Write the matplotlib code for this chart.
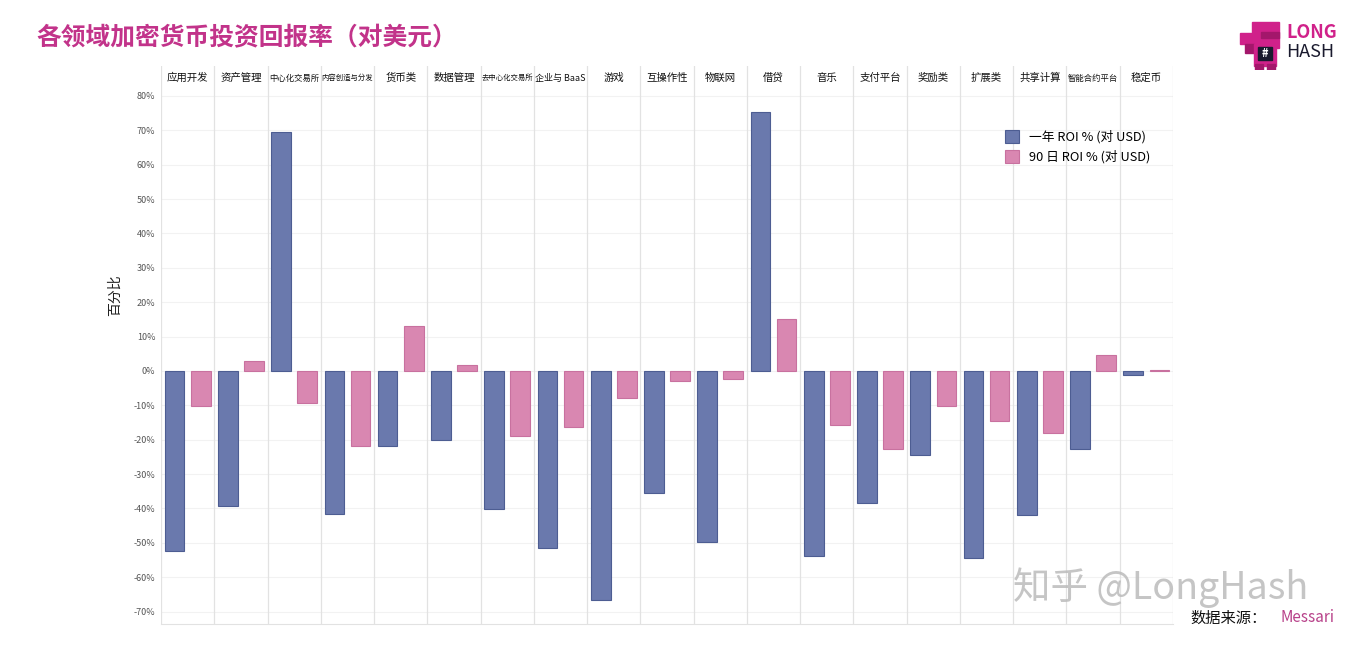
import matplotlib
matplotlib.use("Agg")
import matplotlib.pyplot as plt
import numpy as np
from matplotlib.patches import Rectangle

plt.rcParams['font.family'] = ['Noto Sans CJK SC', 'DejaVu Sans']

categories = ["应用开发", "资产管理", "中心化交易所", "内容创造与分发", "货币类", "数据管理",
              "去中心化交易所", "企业与 BaaS", "游戏", "互操作性", "物联网", "借贷", "音乐",
              "支付平台", "奖励类", "扩展类", "共享计算", "智能合约平台", "稳定币"]
roi_1y = [-52.4, -39.3, 69.5, -41.6, -21.8, -20.1, -40.1, -51.5, -66.6, -35.5,
          -49.7, 75.3, -53.8, -38.4, -24.4, -54.4, -41.9, -22.7, -1.2]
roi_90d = [-10.2, 2.9, -9.3, -21.8, 13.1, 1.7, -18.9, -16.3, -7.9, -2.9,
           -2.3, 15.1, -15.7, -22.7, -10.2, -14.5, -18.0, 4.7, 0.2]
y_ticks = np.arange(-70, 81, 10)
label_1y = "一年 ROI % (对 USD)"
label_90d = "90 日 ROI % (对 USD)"

blue = "#6A79AD"
blue_edge = "#4D5D92"
pink = "#D987B1"
pink_edge = "#C8719F"
magenta = "#C2338A"

W, H = 1366, 650
fig = plt.figure(figsize=(W / 100, H / 100), dpi=100)

left, right = 161 / W, 1173 / W
ax = fig.add_axes([left, 1 - 624 / H, right - left, (624 - 90) / H])
hdr = fig.add_axes([left, 1 - 90 / H, right - left, 24 / H], sharex=ax)

n = len(categories)
x = np.arange(n)
off = 0.245
bw = 0.37
ax.bar(x - off, roi_1y, width=bw, color=blue, edgecolor=blue_edge, linewidth=0.8, label=label_1y, zorder=3)
ax.bar(x + off, roi_90d, width=bw, color=pink, edgecolor=pink_edge, linewidth=0.8, label=label_90d, zorder=3)

ax.set_xlim(-0.5, n - 0.5)
ax.set_ylim(-73.6, 81.7)
ax.set_yticks(y_ticks)
ax.set_yticklabels([f"{v}%" for v in y_ticks], fontsize=6.5, color="#555555")
ax.set_xticks([])
ax.tick_params(axis='y', length=0, pad=4)
for v in y_ticks:
    ax.axhline(v, color="#F2F2F2", linewidth=0.8, zorder=1)
for b in np.arange(-0.5, n, 1.0):
    ax.axvline(b, color="#E2E2E2", linewidth=0.9, zorder=2)
    hdr.axvline(b, color="#E2E2E2", linewidth=0.9)
for s in ["top", "left", "right"]:
    ax.spines[s].set_visible(False)
ax.spines["bottom"].set_color("#E2E2E2")
ax.set_ylabel("百分比", fontsize=10, color="#222222")
ax.yaxis.set_label_coords(-0.039, 0.616)

# category header row
hdr.set_ylim(0, 1)
hdr.axis("off")
for i, c in enumerate(categories):
    if len(c) <= 4:
        fs = 7.5
    elif len(c) == 6:
        fs = 6
    else:
        fs = 5.3
    if c == "企业与 BaaS":
        fs = 6.5
    hdr.text(i, 0.5, c, ha="center", va="center", fontsize=fs, color="#111111")

leg = ax.legend(loc="upper left", bbox_to_anchor=(0.823, 0.947), frameon=False,
                fontsize=9.2, handlelength=1.05, handleheight=1.25, handletextpad=0.8,
                labelspacing=0.45)

fig.text(36 / W, 1 - 38 / H, "各领域加密货币投资回报率（对美元）", fontsize=17.8, color=magenta,
         fontweight="bold", va="center", ha="left")

# watermark and source
fig.text(1013 / W, 1 - 588 / H, "知乎 @LongHash", fontsize=27, color="#BBBBBB", va="center", ha="left", alpha=0.85)
fig.text(1190 / W, 1 - 618 / H, "数据来源：", fontsize=11, color="#111111", va="center", ha="left")
fig.text(1280 / W, 1 - 618 / H, "Messari", fontsize=11, color="#B8428A", va="center", ha="left")

# logo
lg = fig.add_axes([1238 / W, 1 - 70 / H, 45 / W, 52 / H])
lg.set_xlim(0, 10)
lg.set_ylim(0, 12)
lg.axis("off")
for (x0, y0, w, h, col) in [(3, 5, 6, 6, "#D0218A"), (0.5, 6, 2.5, 2.5, "#D0218A"),
                            (1.5, 4, 2, 2, "#A3176B"), (3.5, 1, 5, 5, "#D0218A"),
                            (4.5, 2.3, 3, 3, "#1A1A2E"), (3.8, 0, 1.8, 1.5, "#A3176B"),
                            (6.5, 0, 1.8, 1.5, "#A3176B"), (5, 7.5, 4, 1.3, "#A3176B")]:
    lg.add_patch(Rectangle((x0, y0), w, h, color=col))
lg.text(6, 3.8, "#", color="white", fontsize=8, ha="center", va="center", fontweight="bold")
fig.text(1286 / W, 1 - 32 / H, "LONG", fontsize=13, color="#D0218A", fontweight="bold", va="center", ha="left")
fig.text(1286 / W, 1 - 52 / H, "HASH", fontsize=13, color="#1A1A2E", va="center", ha="left")

fig.savefig("out.png", dpi=100, facecolor="white")
